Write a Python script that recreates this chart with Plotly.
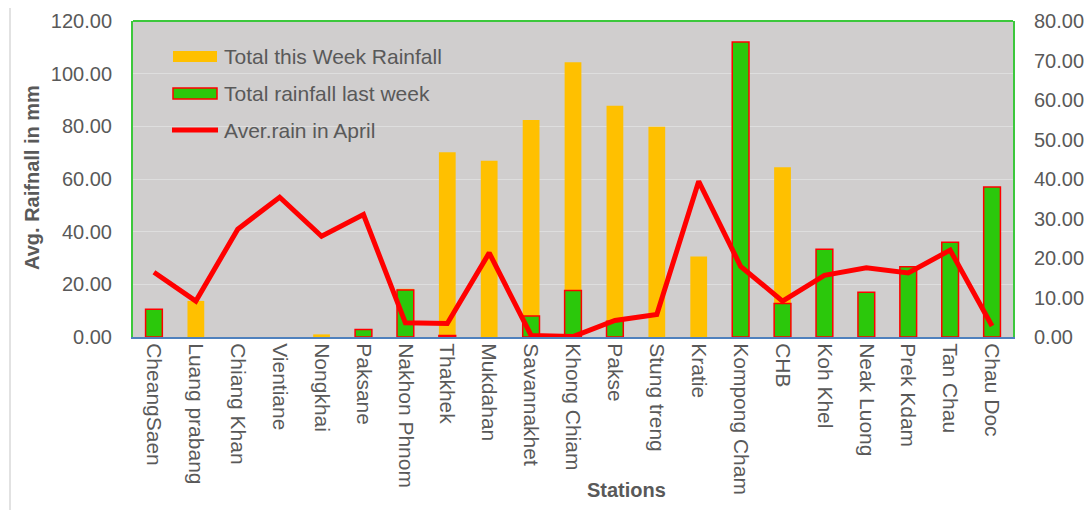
import plotly.graph_objects as go

# Estaciones (eje X)
stations = ['CheangSaen', 'Luang prabang', 'Chiang Khan', 'Vientiane', 'Nongkhai',
            'Paksane', 'Nakhon Phnom', 'Thakhek', 'Mukdahan', 'Savannakhet',
            'Khong Chiam', 'Pakse', 'Stung treng', 'Kratie', 'Kompong Cham',
            'CHB', 'Koh Khel', 'Neak Luong', 'Prek Kdam', 'Tan Chau', 'Chau Doc']

# Lluvia total esta semana (eje izquierdo, mm); None = sin dato
this_week = [None, 13.7, None, None, 1.0, None, 18.3, 70.2, 66.9, 82.4,
             104.3, 87.8, 79.8, 30.6, None, 64.5, None, None, None, None, None]

# Lluvia total semana pasada (eje derecho)
last_week = [7.0, None, None, None, None, 1.9, 11.9, 0.4, None, 5.3,
             11.8, 4.0, None, None, 74.7, 8.5, 22.2, 11.3, 17.8, 24.0, 38.0]

# Promedio de abril (eje derecho)
april_avg = [16.4, 9.1, 27.3, 35.4, 25.5, 31.0, 3.6, 3.4, 21.3, 0.4,
             0.1, 4.2, 5.7, 39.4, 17.9, 9.1, 15.6, 17.5, 16.2, 22.0, 2.8]

left_ticks = [0, 20, 40, 60, 80, 100, 120]
right_ticks = [0, 10, 20, 30, 40, 50, 60, 70, 80]

FONT = 'Liberation Sans, Arial, sans-serif'
GREY = '#595959'
ORANGE = '#FFC000'
GREEN = '#2BC80B'
RED = '#FF0000'
BORDER = '#3CC83C'

W, H = 1085, 517
# Área de trazado en píxeles: x 133..1013, y 21..337
L, R, T, B = 133, W - 1013, 21, H - 337
PW, PH = W - L - R, H - T - B


def px(x):
    # x en píxeles -> coordenada 'paper'
    return (x - L) / PW


def py(y):
    # y en píxeles -> coordenada 'paper'
    return (H - B - y) / PH


fig = go.Figure()

fig.add_trace(go.Bar(
    x=stations, y=this_week, name='Total this Week Rainfall',
    marker=dict(color=ORANGE, line=dict(width=0)),
    width=0.4, yaxis='y'
))
fig.add_trace(go.Bar(
    x=stations, y=last_week, name='Total rainfall last week',
    marker=dict(color=GREEN, line=dict(width=1.5, color=RED)),
    width=0.4, yaxis='y2'
))
fig.add_trace(go.Scatter(
    x=stations, y=april_avg, name='Aver.rain in April', mode='lines',
    line=dict(color=RED, width=5), yaxis='y2'
))

fig.update_layout(
    width=W, height=H,
    margin=dict(l=L, r=R, t=T, b=B, autoexpand=False),
    paper_bgcolor='white',
    plot_bgcolor='#D0CECE',
    barmode='overlay',
    showlegend=False,
    font=dict(family=FONT, size=21, color=GREY),
    xaxis=dict(
        tickangle=90, showgrid=False, ticks='', automargin=False,
        showline=True, linecolor='#4F81BD', linewidth=2,
        tickfont=dict(size=21, color=GREY),
    ),
    yaxis=dict(
        range=[0, 120], tickvals=left_ticks, tickformat='.2f',
        showgrid=True, gridcolor='#DEDEDE', gridwidth=1, automargin=False,
        zeroline=False, showline=True, linecolor=BORDER, linewidth=2,
        ticks='', ticklabelstandoff=15, tickfont=dict(size=20, color=GREY),
    ),
    yaxis2=dict(
        range=[0, 80], tickvals=right_ticks, tickformat='.2f',
        overlaying='y', side='right', showgrid=False, zeroline=False,
        showline=True, linecolor=BORDER, linewidth=2, automargin=False,
        ticks='', ticklabelstandoff=15, tickfont=dict(size=20, color=GREY),
    ),
)

# Borde superior verde del área de trazado
fig.add_shape(type='line', xref='paper', yref='paper', x0=0, x1=1, y0=1, y1=1,
              line=dict(color=BORDER, width=2))
# Línea gris del marco del gráfico a la izquierda
fig.add_shape(type='line', xref='paper', yref='paper',
              x0=px(10), x1=px(10), y0=py(510), y1=py(8),
              line=dict(color='#D9D9D9', width=1.5))

# Leyenda dibujada a mano (símbolos rectangulares anchos como en Excel)
fig.add_shape(type='rect', xref='paper', yref='paper',
              x0=px(173), x1=px(217), y0=py(62), y1=py(51),
              fillcolor=ORANGE, line=dict(width=0))
fig.add_shape(type='rect', xref='paper', yref='paper',
              x0=px(173), x1=px(217), y0=py(99), y1=py(88),
              fillcolor=GREEN, line=dict(width=1.5, color=RED))
fig.add_shape(type='line', xref='paper', yref='paper',
              x0=px(172), x1=px(218), y0=py(130), y1=py(130),
              line=dict(width=5, color=RED))
legend_names = ['Total this Week Rainfall', 'Total rainfall last week', 'Aver.rain in April']
for name, yc in zip(legend_names, [56, 93, 130]):
    fig.add_annotation(text=name, xref='paper', yref='paper', x=px(222), y=py(yc),
                       xanchor='left', yanchor='middle', showarrow=False,
                       font=dict(size=21, color=GREY))

fig.add_annotation(text='<b>Avg. Raifnall in mm</b>', xref='paper', yref='paper',
                   x=px(32), y=py(178), xanchor='center', yanchor='middle',
                   textangle=-90, showarrow=False, font=dict(size=20, color=GREY))
fig.add_annotation(text='<b>Stations</b>', xref='paper', yref='paper',
                   x=px(626), y=py(490), xanchor='center', yanchor='middle',
                   showarrow=False, font=dict(size=20, color=GREY))

# Sin margen en el body para que la figura ocupe exactamente la ventana
fig.write_html('out.html', config={'displayModeBar': False},
               post_script="document.body.style.margin='0';")
